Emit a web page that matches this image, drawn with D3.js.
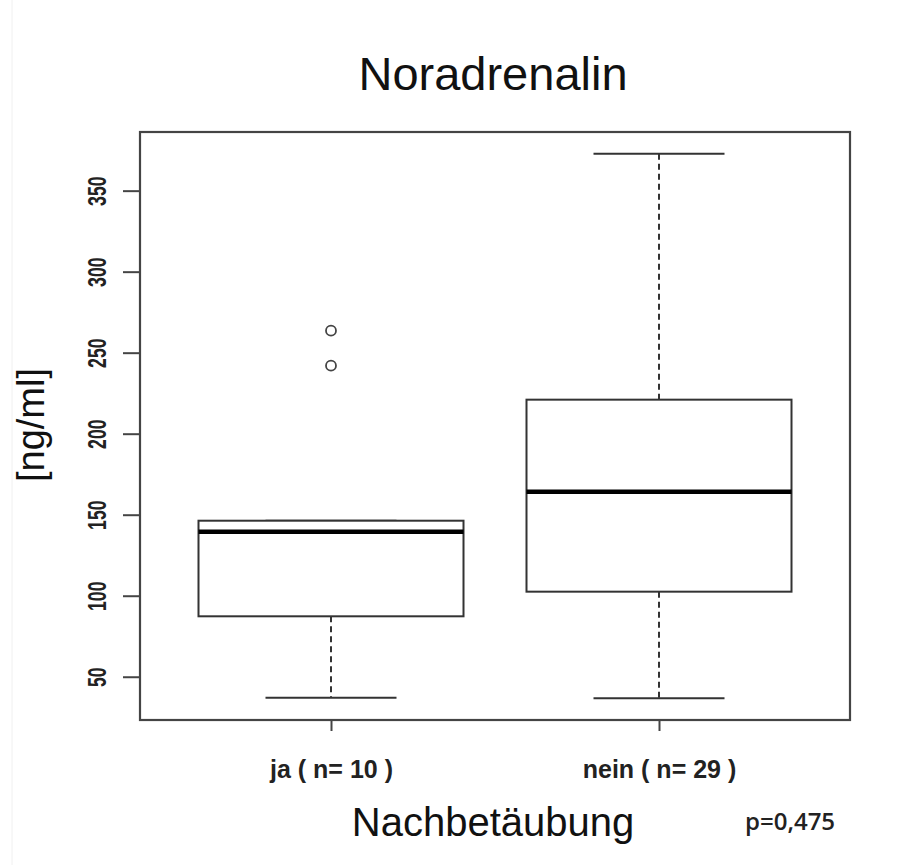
<!DOCTYPE html>
<html>
<head>
<meta charset="utf-8">
<script src="https://cdn.jsdelivr.net/npm/d3@7"></script>
<style>
  body { margin: 0; background: #fff; }
  svg { display: block; font-family: "Liberation Sans", Arial, sans-serif; }
</style>
</head>
<body>
<div id="viz"></div>
<script>
//Datos
const groups = ['ja ( n= 10 )', 'nein ( n= 29 )'];
const whiskerLow = [37, 36.7];
const q1 = [87.3, 102.5];
const median = [139.5, 164.2];
const q3 = [146.3, 221];
const whiskerHigh = [146.3, 372.8];
const outliers = [[263.6, 242], []];
const yTicks = [50, 100, 150, 200, 250, 300, 350];

const W = 899, H = 865;
const frame = {left: 140, right: 850, top: 132, bottom: 720};

let svg = d3.select('#viz').append('svg')
    .attr('width', W)
    .attr('height', H);

// borde tenue a la izquierda
svg.append('line')
    .attr('x1', 12).attr('x2', 12).attr('y1', 0).attr('y2', H)
    .attr('stroke', '#f0f0f0').attr('stroke-width', 1);

// Escalas
let y = d3.scaleLinear()
    .domain([23.3, 386.2])
    .range([frame.bottom, frame.top]);

let x = d3.scalePoint()
    .domain(groups)
    .range([331, 659]);

const boxW = 265, capW = 131;

let data = groups.map(function(g, i) {
    return {g: g, lo: whiskerLow[i], q1: q1[i], med: median[i], q3: q3[i], hi: whiskerHigh[i], out: outliers[i]};
});

// Eje Y (etiquetas estrechas, como en el original)
let yAxis = svg.append('g')
    .attr('transform', 'translate(' + frame.left + ',0)')
    .call(d3.axisLeft(y).tickValues(yTicks).tickSize(17).tickPadding(0));
yAxis.select('.domain').remove();
yAxis.selectAll('line').attr('stroke', '#444').attr('stroke-width', 2);
yAxis.selectAll('text')
    .attr('transform', 'rotate(-90) scale(0.68,1)')
    .attr('x', 0).attr('dy', 0)
    .attr('y', -34)
    .style('text-anchor', 'middle')
    .style('font-size', '26px')
    .style('font-weight', 'bold')
    .style('font-family', '"Liberation Sans", Arial, sans-serif')
    .attr('fill', '#222');

// Eje X
let xAxis = svg.append('g')
    .attr('transform', 'translate(0,' + frame.bottom + ')')
    .call(d3.axisBottom(x).tickSize(11).tickPadding(0));
xAxis.select('.domain').remove();
xAxis.selectAll('line').attr('stroke', '#444').attr('stroke-width', 2);
xAxis.selectAll('text')
    .attr('y', 58).attr('dy', 0)
    .style('font-size', '25px')
    .style('font-weight', 'bold')
    .style('font-family', '"Liberation Sans Narrow", "Liberation Sans", Arial, sans-serif')
    .attr('fill', '#222');

// Bigotes
let boxes = svg.selectAll('.box')
    .data(data)
    .enter()
    .append('g')
    .attr('class', 'box');

boxes.append('line')
    .attr('x1', function(d) { return x(d.g); })
    .attr('x2', function(d) { return x(d.g); })
    .attr('y1', function(d) { return y(d.q1); })
    .attr('y2', function(d) { return y(d.lo); })
    .attr('stroke', '#333').attr('stroke-width', 2).attr('stroke-dasharray', '6,4');

boxes.filter(function(d) { return d.hi > d.q3; })
    .append('line')
    .attr('x1', function(d) { return x(d.g); })
    .attr('x2', function(d) { return x(d.g); })
    .attr('y1', function(d) { return y(d.q3); })
    .attr('y2', function(d) { return y(d.hi); })
    .attr('stroke', '#333').attr('stroke-width', 2).attr('stroke-dasharray', '6,4');

boxes.append('line')
    .attr('x1', function(d) { return x(d.g) - capW / 2; })
    .attr('x2', function(d) { return x(d.g) + capW / 2; })
    .attr('y1', function(d) { return y(d.lo); })
    .attr('y2', function(d) { return y(d.lo); })
    .attr('stroke', '#333').attr('stroke-width', 2);

boxes.append('line')
    .attr('x1', function(d) { return x(d.g) - capW / 2; })
    .attr('x2', function(d) { return x(d.g) + capW / 2; })
    .attr('y1', function(d) { return y(d.hi); })
    .attr('y2', function(d) { return y(d.hi); })
    .attr('stroke', '#333').attr('stroke-width', 2);

// Cajas
boxes.append('rect')
    .attr('x', function(d) { return x(d.g) - boxW / 2; })
    .attr('width', boxW)
    .attr('y', function(d) { return y(d.q3); })
    .attr('height', function(d) { return y(d.q1) - y(d.q3); })
    .attr('fill', '#fff')
    .attr('stroke', '#333').attr('stroke-width', 2);

// Mediana
boxes.append('line')
    .attr('x1', function(d) { return x(d.g) - boxW / 2; })
    .attr('x2', function(d) { return x(d.g) + boxW / 2; })
    .attr('y1', function(d) { return y(d.med); })
    .attr('y2', function(d) { return y(d.med); })
    .attr('stroke', '#000').attr('stroke-width', 4.5);

// Outliers
boxes.selectAll('circle')
    .data(function(d) { return d.out.map(function(v) { return {g: d.g, v: v}; }); })
    .enter()
    .append('circle')
    .attr('cx', function(d) { return x(d.g); })
    .attr('cy', function(d) { return y(d.v); })
    .attr('r', 5)
    .attr('fill', 'none')
    .attr('stroke', '#444').attr('stroke-width', 1.8);

// Marco
svg.append('rect')
    .attr('x', frame.left).attr('y', frame.top)
    .attr('width', frame.right - frame.left)
    .attr('height', frame.bottom - frame.top)
    .attr('fill', 'none')
    .attr('stroke', '#444').attr('stroke-width', 2.2);

// Textos
svg.append('text')
    .attr('x', 493).attr('y', 90)
    .attr('text-anchor', 'middle')
    .style('font-size', '47px')
    .attr('fill', '#111')
    .text('Noradrenalin');

svg.append('text')
    .attr('transform', 'translate(44,425)rotate(-90)')
    .attr('text-anchor', 'middle')
    .style('font-size', '38px')
    .attr('fill', '#111')
    .text('[ng/ml]');

svg.append('text')
    .attr('x', 493).attr('y', 836)
    .attr('text-anchor', 'middle')
    .style('font-size', '40px')
    .attr('fill', '#111')
    .text('Nachbetäubung');

svg.append('text')
    .attr('x', 745).attr('y', 830)
    .style('font-size', '24px')
    .style('font-weight', '600')
    .style('font-family', '"Open Sans", "DejaVu Sans", sans-serif')
    .attr('fill', '#222')
    .text('p=0,475');
</script>
</body>
</html>
